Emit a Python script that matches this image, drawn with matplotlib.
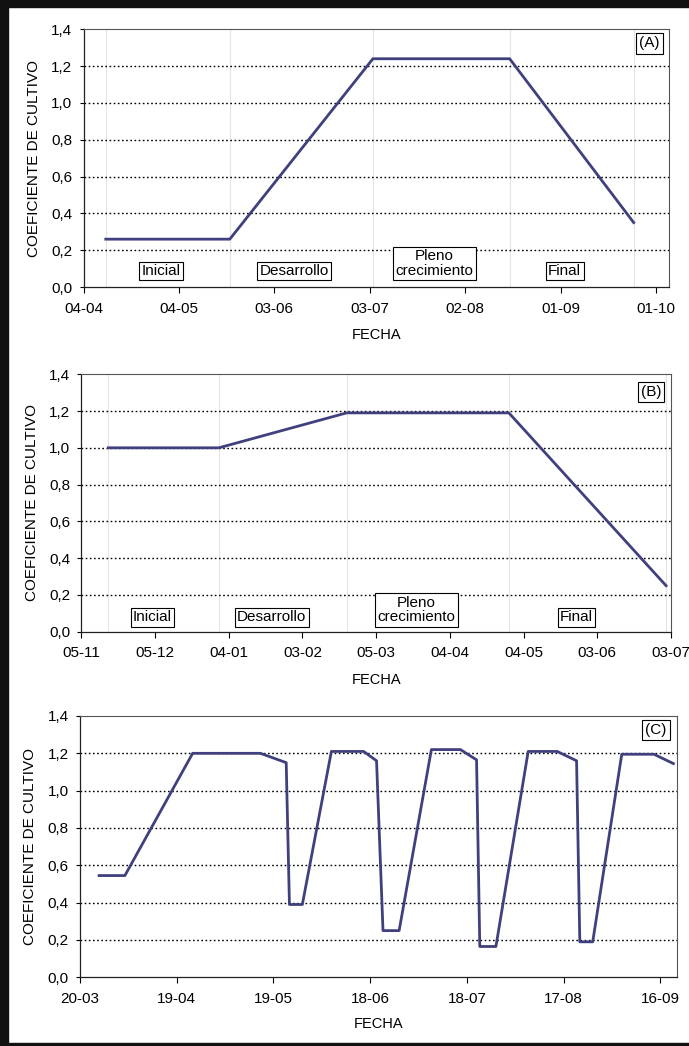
"""Crop coefficient curves (A), (B), (C)."""

import pandas as pd
import matplotlib
matplotlib.use("Agg")
import matplotlib.pyplot as plt
import matplotlib.dates as mdates
from matplotlib.patches import Rectangle

plt.rcParams["font.family"] = ["Liberation Sans", "DejaVu Sans"]

# --- data -------------------------------------------------------------
ytick_vals = [0.0, 0.2, 0.4, 0.6, 0.8, 1.0, 1.2, 1.4]
ytick_labels = ["0,0", "0,2", "0,4", "0,6", "0,8", "1,0", "1,2", "1,4"]
stage_names = ["Inicial", "Desarrollo", "Pleno\ncrecimiento", "Final"]

a_dates = ["2003-04-11", "2003-05-20", "2003-07-04", "2003-08-16", "2003-09-24"]
a_kc = [0.26, 0.26, 1.24, 1.24, 0.35]
a_ticks = ["2003-04-04", "2003-05-04", "2003-06-03", "2003-07-03",
           "2003-08-02", "2003-09-01", "2003-10-01"]
a_xlim = ["2003-04-04", "2003-10-05"]

b_dates = ["2002-11-16", "2002-12-31", "2003-02-21", "2003-04-28", "2003-07-01"]
b_kc = [1.00, 1.00, 1.19, 1.19, 0.25]
b_ticks = ["2002-11-05", "2002-12-05", "2003-01-04", "2003-02-03", "2003-03-05",
           "2003-04-04", "2003-05-04", "2003-06-03", "2003-07-03"]
b_xlim = ["2002-11-05", "2003-07-03"]

c_dates = ["2003-03-26", "2003-04-03", "2003-04-24", "2003-05-15", "2003-05-23",
           "2003-05-24", "2003-05-28", "2003-06-06", "2003-06-16", "2003-06-20",
           "2003-06-22", "2003-06-27", "2003-07-07", "2003-07-16", "2003-07-21",
           "2003-07-22", "2003-07-27", "2003-08-06", "2003-08-15", "2003-08-21",
           "2003-08-22", "2003-08-26", "2003-09-04", "2003-09-14", "2003-09-20"]
c_kc = [0.545, 0.545, 1.20, 1.20, 1.15,
        0.39, 0.39, 1.21, 1.21, 1.16,
        0.25, 0.25, 1.22, 1.22, 1.165,
        0.165, 0.165, 1.21, 1.21, 1.16,
        0.19, 0.19, 1.195, 1.195, 1.145]
c_ticks = ["2003-03-20", "2003-04-19", "2003-05-19", "2003-06-18",
           "2003-07-18", "2003-08-17", "2003-09-16"]
c_xlim = ["2003-03-20", "2003-09-21"]

LINE = "#40407e"
BOX = dict(boxstyle="square,pad=0.15", fc="white", ec="black", lw=0.8)


def style_axes(ax, ticks, xlim, tag, tag_xy, xlabel_y):
    ax.set_ylim(0, 1.4)
    ax.set_xlim(pd.to_datetime(xlim[0]), pd.to_datetime(xlim[1]))
    ax.set_yticks(ytick_vals)
    ax.set_yticklabels(ytick_labels)
    ax.set_xticks(pd.to_datetime(ticks))
    ax.xaxis.set_major_formatter(mdates.DateFormatter("%d-%m"))
    for y in ytick_vals[1:-1]:
        ax.axhline(y, color="black", lw=1.0, ls=(0, (1.2, 1.8)), zorder=1)
    ax.tick_params(axis="x", direction="out", length=4.5, width=0.8,
                   pad=6, labelsize=11)
    ax.tick_params(axis="y", direction="out", length=3, width=0.8,
                   pad=5, labelsize=11)
    for side in ("left", "bottom"):
        ax.spines[side].set_color("#222222")
        ax.spines[side].set_linewidth(0.9)
    for side in ("top", "right"):
        ax.spines[side].set_color("#555555")
        ax.spines[side].set_linewidth(0.8)
    ax.set_ylabel("COEFICIENTE DE CULTIVO", fontsize=11)
    ax.yaxis.set_label_coords(-0.072, 0.5)
    ax.set_xlabel("FECHA", fontsize=10.5)
    ax.xaxis.set_label_coords(0.5, xlabel_y)
    ax.text(tag_xy[0], tag_xy[1], tag, transform=ax.transAxes, fontsize=11,
            ha="center", va="center",
            bbox=dict(boxstyle="square,pad=0.2", fc="white", ec="black", lw=0.8))


def add_stages(ax, dates, y, shift):
    # one boxed label per phase, centred between the break dates
    d = mdates.date2num(pd.to_datetime(dates))
    for name, x0, x1 in zip(stage_names, d[:-1], d[1:]):
        ax.annotate(name, xy=((x0 + x1) / 2, y), xytext=(shift, 0),
                    textcoords="offset points", ha="center", va="bottom",
                    fontsize=11, linespacing=1.05, zorder=5, bbox=BOX)


fig = plt.figure(figsize=(6.89, 10.46), dpi=100)
fig.patch.set_facecolor("white")

ax_a = fig.add_axes([0.1212, 0.7256, 0.8493, 0.2464])
ax_b = fig.add_axes([0.1180, 0.3961, 0.8559, 0.2461])
ax_c = fig.add_axes([0.1157, 0.0657, 0.8663, 0.2498])

# Panel A
for d in pd.to_datetime(a_dates):
    ax_a.axvline(d, color="#e4e4e4", lw=0.8, zorder=0)
ax_a.plot(pd.to_datetime(a_dates), a_kc, color=LINE, lw=2.0, zorder=3)
style_axes(ax_a, a_ticks, a_xlim, "(A)", (0.967, 0.945), -0.159)
add_stages(ax_a, a_dates, 0.05, -5)

# Panel B
for d in pd.to_datetime(b_dates):
    ax_b.axvline(d, color="#e4e4e4", lw=0.8, zorder=0)
ax_b.plot(pd.to_datetime(b_dates), b_kc, color=LINE, lw=2.0, zorder=3)
style_axes(ax_b, b_ticks, b_xlim, "(B)", (0.966, 0.931), -0.160)
add_stages(ax_b, b_dates, 0.04, -8)

# Panel C
ax_c.plot(pd.to_datetime(c_dates), c_kc, color=LINE, lw=2.0, zorder=3)
style_axes(ax_c, c_ticks, c_xlim, "(C)", (0.9655, 0.946), -0.151)

# scanned page frame
fig.add_artist(Rectangle((0, 1 - 7 / 1046), 1, 7 / 1046,
                         transform=fig.transFigure, color="#111111"))
fig.add_artist(Rectangle((0, 0), 8 / 689, 1,
                         transform=fig.transFigure, color="#111111"))
fig.add_artist(Rectangle((0, 0), 1, 3 / 1046,
                         transform=fig.transFigure, color="#111111"))

fig.savefig("out.png", dpi=100)
